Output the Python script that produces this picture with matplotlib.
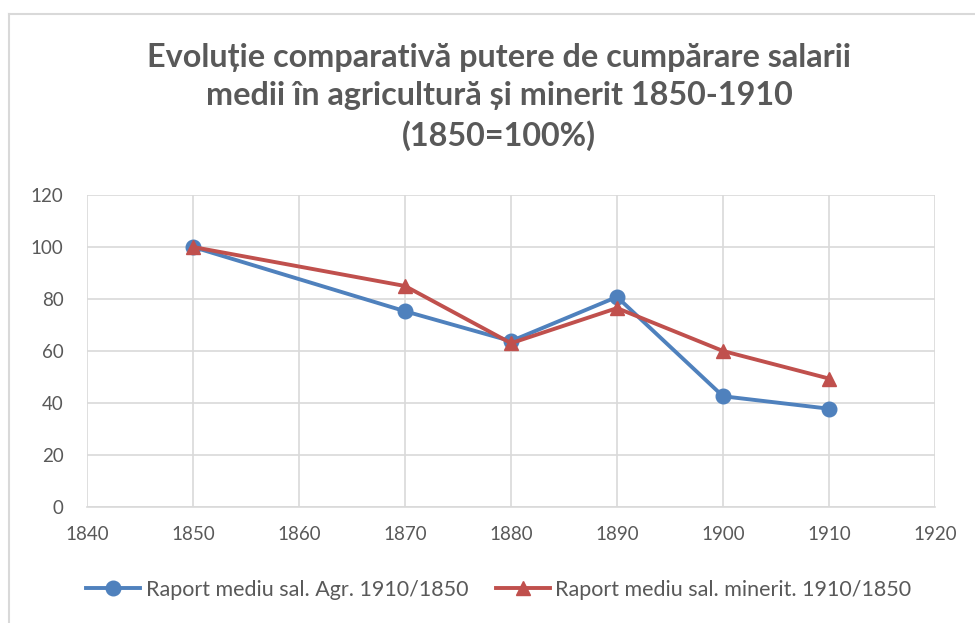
import matplotlib

matplotlib.use("Agg")
import matplotlib.pyplot as plt
from matplotlib.lines import Line2D

# --- data -----------------------------------------------------------------
years = [1850, 1870, 1880, 1890, 1900, 1910]
agr = [100, 75.3, 63.8, 80.8, 42.6, 37.8]
miner = [100, 85.0, 63.0, 76.5, 60.0, 49.4]
series_names = ["Raport mediu sal. Agr. 1910/1850",
                "Raport mediu sal. minerit. 1910/1850"]
title = ("Evoluție comparativă putere de cumpărare salarii\n"
         "medii în agricultură și minerit 1850-1910\n(1850=100%)")

BLUE = "#4f81bd"
RED = "#c0504d"
TEXT = "#595959"
GRID = "#d9d9d9"

plt.rcParams["font.family"] = ["Lato", "DejaVu Sans"]

fig = plt.figure(figsize=(9.75, 6.23), dpi=100)
ax = fig.add_axes([87 / 975, 1 - 507 / 623, 848 / 975, 312 / 623])

ax.plot(years, agr, "-o", color=BLUE, lw=2.8, ms=10.5, zorder=3)
ax.plot(years, miner, "-^", color=RED, lw=2.8, ms=10.5, zorder=3)

ax.set_xlim(1840, 1920)
ax.set_ylim(0, 120)
ax.set_xticks(range(1840, 1921, 10))
ax.set_yticks(range(0, 121, 20))
ax.tick_params(length=0, labelsize=13.5, labelcolor=TEXT)
ax.tick_params(axis="x", pad=14)
ax.tick_params(axis="y", pad=17)
ax.grid(True, color=GRID, lw=1.2, zorder=0)
for s in ax.spines.values():
    s.set_visible(False)
ax.spines["bottom"].set_visible(True)
ax.spines["bottom"].set_color(GRID)
ax.spines["bottom"].set_linewidth(1.2)

fig.text(499 / 975, 1 - 97 / 623, title, ha="center", va="center", fontsize=23.3,
         fontweight="bold", color=TEXT, linespacing=1.38)

handles = [
    Line2D([0], [0], color=BLUE, lw=2.8, marker="o", ms=10.5),
    Line2D([0], [0], color=RED, lw=2.8, marker="^", ms=10.5),
]
fig.legend(handles, series_names, loc="center",
           bbox_to_anchor=(499 / 975, 1 - 590 / 623),
           ncol=2, frameon=False, fontsize=15.5, labelcolor=TEXT,
           handlelength=2.5, handletextpad=0.25, columnspacing=1.3)

# chart border as in the spreadsheet export
fig.add_artist(Line2D([9 / 975, 9 / 975], [0, 1 - 14 / 623], color=GRID, lw=1.5))
fig.add_artist(Line2D([9 / 975, 1], [1 - 14 / 623, 1 - 14 / 623], color=GRID, lw=1.5))

fig.savefig("out.png", dpi=100, facecolor="white")
